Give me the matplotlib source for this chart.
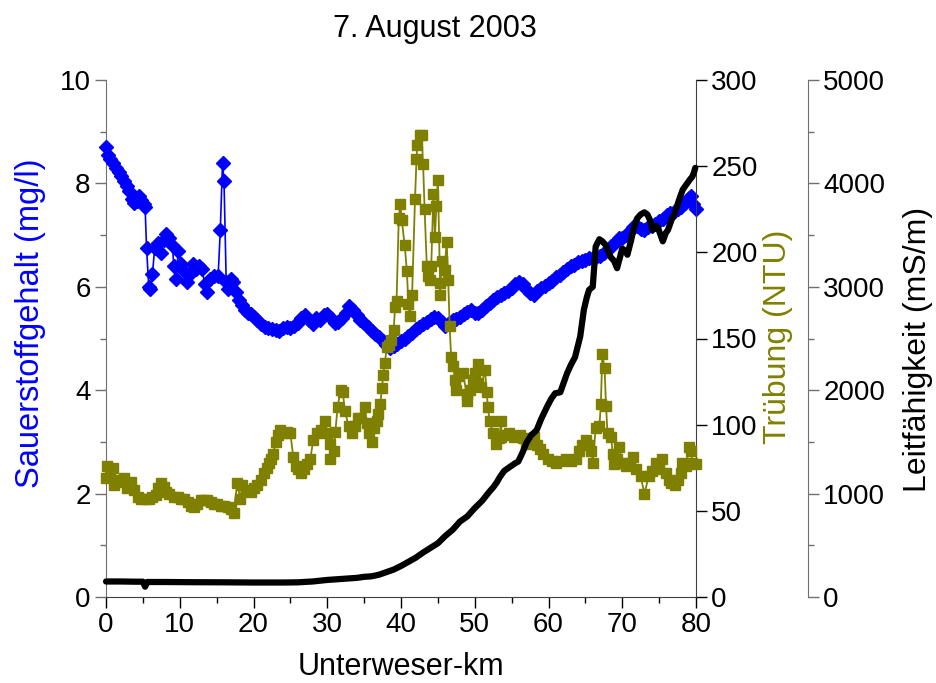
import matplotlib
matplotlib.use('Agg')
import matplotlib.pyplot as plt
from matplotlib.ticker import MultipleLocator
# ------------------------
plt.rcParams['font.family'] = ['Liberation Sans', 'DejaVu Sans']
TITLE = '7. August 2003'
COL_O2 = '#0000ff'
COL_TRUEB = '#808000'
COL_LF = '#000000'
# ------------------------------

# Sauerstoffgehalt (mg/l)
o2_km = [0.0, 0.3, 0.6, 1.0, 1.3, 1.7, 2.0, 2.4, 2.8, 3.1, 3.5, 3.8, 4.2, 4.5, 4.8, 5.1, 5.3,
         5.5, 5.8, 6.0, 6.3, 6.6, 7.0, 7.4, 7.8, 8.2, 8.6, 9.0, 9.2, 9.5, 9.8, 10.2, 10.6,
         11.0, 11.4, 11.8, 12.2, 12.6, 13.0, 13.4, 13.7, 14.1, 14.6, 15.2, 15.5, 15.8, 16.0,
         16.3, 16.6, 16.9, 17.2, 17.6, 18.0, 18.4, 18.8, 19.2, 19.6, 20.0, 20.5, 21.0, 21.5,
         22.0, 22.5, 23.0, 23.5, 24.0, 24.5, 25.0, 25.5, 26.0, 26.5, 27.0, 27.5, 28.0, 28.5,
         29.0, 29.5, 30.0, 30.5, 31.0, 31.5, 32.0, 32.5, 33.0, 33.5, 34.0, 34.5, 35.0, 35.5,
         36.0, 36.5, 37.0, 37.5, 38.0, 38.5, 39.0, 39.5, 40.0, 40.5, 41.0, 41.5, 42.0, 42.5,
         43.0, 43.5, 44.0, 44.5, 45.0, 45.5, 46.0, 46.5, 47.0, 47.5, 48.0, 48.5, 49.0, 49.5,
         50.0, 50.5, 51.0, 51.5, 52.0, 52.5, 53.0, 53.5, 54.0, 54.5, 55.0, 55.5, 56.0, 56.5,
         57.0, 57.5, 58.0, 58.5, 59.0, 59.5, 60.0, 60.5, 61.0, 61.5, 62.0, 62.5, 63.0, 63.5,
         64.0, 64.5, 65.0, 65.5, 66.0, 66.5, 67.0, 67.5, 68.0, 68.5, 69.0, 69.5, 70.0, 70.5,
         71.0, 71.5, 72.0, 72.5, 73.0, 73.5, 74.0, 74.5, 75.0, 75.5, 76.0, 76.5, 77.0, 77.5,
         78.0, 78.5, 79.0, 79.3, 79.6, 80.0]
o2_val = [8.70, 8.55, 8.48, 8.40, 8.30, 8.22, 8.15, 8.05, 7.95, 7.85, 7.70, 7.62, 7.65, 7.75,
          7.68, 7.60, 7.55, 6.75, 6.00, 5.95, 6.25, 6.75, 6.85, 6.65, 6.90, 7.02, 6.95, 6.80,
          6.40, 6.15, 6.70, 6.45, 6.30, 6.10, 6.25, 6.45, 6.35, 6.40, 6.35, 6.05, 5.90, 6.15,
          6.20, 6.20, 7.10, 8.40, 8.05, 6.10, 5.95, 6.15, 6.10, 5.90, 5.75, 5.65, 5.55, 5.50,
          5.48, 5.42, 5.35, 5.28, 5.22, 5.20, 5.18, 5.16, 5.15, 5.20, 5.22, 5.20, 5.25, 5.30,
          5.40, 5.45, 5.35, 5.28, 5.40, 5.35, 5.45, 5.48, 5.40, 5.30, 5.32, 5.40, 5.50, 5.62,
          5.55, 5.45, 5.35, 5.30, 5.22, 5.15, 5.08, 5.02, 4.95, 4.88, 4.82, 4.85, 4.90, 4.95,
          5.00, 5.05, 5.10, 5.18, 5.22, 5.28, 5.32, 5.38, 5.42, 5.40, 5.32, 5.25, 5.30, 5.35,
          5.38, 5.42, 5.48, 5.52, 5.55, 5.50, 5.50, 5.55, 5.62, 5.68, 5.75, 5.80, 5.85, 5.88,
          5.92, 5.98, 6.05, 6.10, 6.05, 5.95, 5.88, 5.85, 5.92, 5.98, 6.02, 6.08, 6.12, 6.18,
          6.22, 6.28, 6.35, 6.40, 6.42, 6.48, 6.50, 6.52, 6.55, 6.55, 6.58, 6.60, 6.65, 6.72,
          6.78, 6.85, 6.95, 6.95, 7.00, 7.08, 7.15, 7.18, 7.12, 7.10, 7.15, 7.18, 7.22, 7.28,
          7.32, 7.38, 7.42, 7.45, 7.50, 7.55, 7.62, 7.72, 7.75, 7.60, 7.50]

# Trübung (NTU)
tr_km = [0.0, 0.2, 0.5, 0.9, 1.1, 1.5, 2.0, 2.5, 2.9, 3.4, 3.8, 4.3, 4.8, 5.3, 5.8, 6.3, 6.8,
         7.1, 7.4, 7.8, 8.1, 8.6, 9.2, 9.7, 10.2, 10.6, 11.1, 11.5, 11.9, 12.4, 12.9, 13.3,
         13.7, 14.2, 14.6, 15.1, 15.6, 16.0, 16.5, 16.9, 17.3, 17.8, 18.2, 18.5, 19.0, 19.6,
         20.0, 20.5, 21.0, 21.4, 21.8, 22.1, 22.4, 22.7, 23.0, 23.3, 23.6, 24.0, 24.5, 25.0,
         25.4, 25.8, 26.1, 26.4, 26.8, 27.2, 27.7, 28.1, 28.6, 29.1, 29.7, 30.0, 30.4, 30.4,
         30.9, 31.1, 31.4, 31.8, 32.1, 32.4, 32.9, 33.3, 33.8, 34.2, 34.5, 35.1, 35.4, 35.7,
         36.0, 36.4, 36.7, 36.9, 37.2, 37.4, 37.6, 37.8, 38.1, 38.4, 38.7, 39.0, 39.2, 39.4,
         39.7, 39.9, 40.1, 40.5, 40.8, 41.0, 41.2, 41.5, 41.9, 42.1, 42.2, 42.6, 42.8, 43.0,
         43.2, 43.5, 43.7, 43.9, 44.1, 44.4, 44.6, 44.8, 45.0, 45.3, 45.3, 45.5, 45.9, 46.2,
         46.4, 46.6, 46.8, 47.1, 47.3, 47.5, 47.9, 48.4, 48.9, 48.9, 49.3, 49.8, 50.1, 50.4,
         50.4, 50.9, 51.4, 51.6, 51.8, 52.0, 52.5, 52.9, 53.3, 53.6, 53.6, 54.2, 54.7, 55.3,
         56.1, 56.6, 57.0, 57.5, 58.1, 58.5, 58.8, 59.3, 59.9, 60.5, 61.0, 61.7, 62.4, 63.0,
         63.7, 64.2, 64.6, 65.1, 65.5, 65.8, 66.0, 66.4, 66.9, 67.1, 67.3, 67.6, 67.8, 68.0,
         68.5, 68.7, 68.9, 69.3, 69.6, 70.0, 70.5, 71.0, 71.4, 71.9, 72.5, 73.0, 73.6, 74.1,
         74.6, 75.0, 75.4, 75.9, 76.3, 76.6, 77.2, 77.6, 77.9, 78.1, 78.6, 79.1, 79.3, 79.5,
         80.0]
tr_val = [69, 76, 72, 75, 65, 68, 67, 69, 63, 67, 62, 58, 57, 57, 57, 58, 59, 63, 66, 64, 61,
          60, 58, 58, 57, 57, 55, 53, 52, 54, 56, 56, 56, 55, 54, 54, 53, 53, 52, 51, 49, 66,
          57, 65, 62, 61, 63, 65, 68, 72, 75, 78, 80, 83, 90, 94, 97, 95, 96, 95, 81, 76, 74,
          72, 74, 77, 80, 91, 95, 97, 102, 95, 89, 80, 85, 96, 110, 120, 119, 108, 99, 95, 99,
          104, 104, 110, 101, 95, 90, 98, 102, 106, 112, 121, 129, 136, 145, 146, 149, 155,
          168, 172, 220, 228, 219, 204, 189, 170, 163, 175, 231, 254, 262, 268, 268, 251, 225,
          192, 186, 184, 192, 234, 209, 227, 242, 182, 175, 195, 190, 206, 184, 157, 139, 134,
          126, 120, 128, 130, 118, 114, 120, 126, 130, 135, 124, 122, 132, 119, 110, 102, 95,
          89, 92, 102, 93, 94, 95, 93, 94, 92, 89, 90, 93, 88, 86, 83, 80, 79, 78, 79, 80, 79,
          80, 85, 88, 91, 88, 85, 78, 98, 99, 112, 141, 133, 111, 95, 93, 83, 77, 80, 87, 78,
          76, 78, 81, 74, 70, 60, 70, 73, 78, 74, 80, 72, 68, 66, 65, 68, 72, 78, 76, 87, 85,
          78, 77]

# Leitfähigkeit (mS/m)
lf_km = [0.0, 2.0, 4.0, 5.0, 5.3, 5.6, 8.0, 12.0, 16.0, 20.0, 24.0, 26.0, 28.0, 30.0, 32.0,
         34.0, 35.0, 36.0, 37.0, 38.0, 39.0, 40.0, 41.0, 42.0, 43.0, 44.0, 45.0, 46.0, 47.0,
         48.0, 49.0, 50.0, 51.0, 52.0, 52.5, 53.0, 53.4, 54.0, 54.8, 55.4, 55.9, 56.5, 57.0,
         57.6, 58.4, 59.0, 59.8, 60.4, 60.9, 61.6, 62.1, 62.5, 63.0, 63.6, 64.3, 64.8, 65.2,
         65.5, 66.0, 66.4, 66.9, 67.3, 67.8, 68.4, 68.9, 69.3, 70.0, 70.4, 70.7, 71.2, 71.6,
         72.0, 72.5, 73.0, 73.4, 73.8, 74.1, 74.5, 74.8, 75.2, 75.5, 75.9, 76.2, 76.7, 77.1,
         77.7, 78.2, 78.8, 79.2, 79.5, 79.7, 79.9]
lf_val = [150, 150, 148, 148, 100, 145, 145, 143, 142, 140, 140, 142, 150, 165, 175, 185, 195,
          200, 215, 240, 265, 300, 340, 380, 430, 475, 520, 590, 650, 730, 780, 860, 930, 1020,
          1060, 1110, 1160, 1220, 1260, 1290, 1310, 1400, 1490, 1560, 1615, 1720, 1840, 1920,
          1970, 1980, 2080, 2160, 2240, 2320, 2520, 2780, 2900, 2970, 3000, 3390, 3460, 3440,
          3400, 3290, 3250, 3180, 3370, 3350, 3310, 3450, 3580, 3660, 3700, 3720, 3700, 3640,
          3550, 3590, 3580, 3500, 3440, 3520, 3550, 3650, 3710, 3840, 3940, 4000, 4040, 4065,
          4100, 4150]


def main():
    fig = plt.figure(figsize=(9.36, 6.83), dpi=100)
    ax = fig.add_axes([106 / 936, 1 - 597 / 683, 590 / 936, 517 / 683])
    ax2 = ax.twinx()
    ax3 = ax.twinx()

    ax.plot(o2_km, o2_val, color=COL_O2, lw=1.2, marker='D', ms=7.5, mec=COL_O2, clip_on=False, zorder=3)
    ax2.plot(tr_km, tr_val, color=COL_TRUEB, lw=1.3, marker='s', ms=7, mec=COL_TRUEB, clip_on=False, zorder=3)
    ax3.plot(lf_km, lf_val, color=COL_LF, lw=4.5, solid_capstyle='round', solid_joinstyle='round',
             clip_on=False, zorder=3)

    ax.set_xlim(0, 80)
    ax.set_ylim(0, 10)
    ax2.set_ylim(0, 300)
    ax3.set_ylim(0, 5000)

    ax.xaxis.set_major_locator(MultipleLocator(10))
    ax.xaxis.set_minor_locator(MultipleLocator(5))
    ax.yaxis.set_major_locator(MultipleLocator(2))
    ax.yaxis.set_minor_locator(MultipleLocator(1))
    ax2.yaxis.set_major_locator(MultipleLocator(50))
    ax3.yaxis.set_major_locator(MultipleLocator(1000))
    ax3.yaxis.set_minor_locator(MultipleLocator(500))

    for a in (ax, ax2, ax3):
        a.spines['top'].set_visible(False)
        a.tick_params(which='major', direction='out', length=8, width=1, labelsize=20, pad=3)
        a.tick_params(which='minor', direction='out', length=4, width=1)
    ax.spines['right'].set_visible(False)
    ax2.spines['left'].set_visible(False)
    ax2.spines['bottom'].set_visible(False)
    ax3.spines['left'].set_visible(False)
    ax3.spines['bottom'].set_visible(False)
    ax3.spines['right'].set_position(('axes', 702 / 590))

    ax.spines['left'].set_color('#707070')
    ax.spines['bottom'].set_color('#404040')
    ax2.spines['right'].set_color('#404040')
    ax3.spines['right'].set_color('#707070')
    ax.tick_params(axis='y', which='both', color='#707070')
    ax3.tick_params(axis='y', which='both', color='#707070')

    fig.text(435 / 936, 1 - 37 / 683, TITLE, fontsize=22, ha='center', va='baseline')
    fig.text(401 / 936, 1 - 675 / 683, 'Unterweser-km', fontsize=22, ha='center', va='baseline')
    fig.text(31 / 936, 1 - 323 / 683, 'Sauerstoffgehalt (mg/l)', fontsize=23.5, color=COL_O2,
             rotation=90, ha='center', va='center')
    fig.text(778 / 936, 1 - 337 / 683, 'Trübung (NTU)', fontsize=23, color=COL_TRUEB,
             rotation=90, ha='center', va='center')
    fig.text(918 / 936, 1 - 349 / 683, 'Leitfähigkeit (mS/m)', fontsize=23, color=COL_LF,
             rotation=90, ha='center', va='center')

    fig.savefig('out.png', dpi=100)


if __name__ == "__main__":
    main()
